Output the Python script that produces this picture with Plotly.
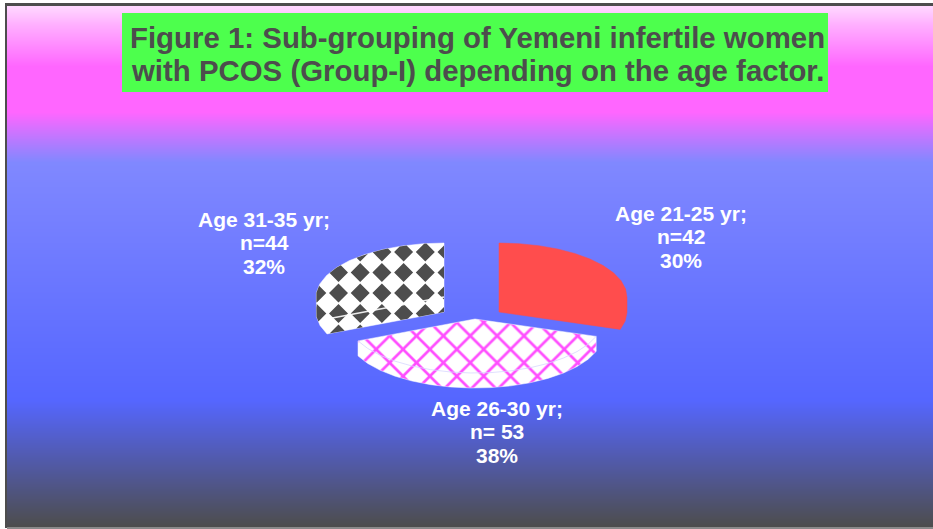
import math
import numpy as np
import plotly.graph_objects as go

# ---- data ----
groups = ["Age 21-25 yr", "Age 26-30 yr", "Age 31-35 yr"]
counts = [42, 53, 44]
percents = [30, 38, 32]
count_prefix = ["n=", "n= ", "n="]
title_lines = ["Figure 1: Sub-grouping of Yemeni infertile women",
               "with PCOS (Group-I) depending on the age factor."]

W, H = 933, 529
DARK = "#4D4D4D"

# background gradient (pixel row -> colour)
grad_rows = [6, 24, 66, 112, 162, 400, 526]
grad_cols = ["#FFD8FF", "#FFB0FF", "#FF66FF", "#FF66FF", "#8088FF", "#5566FF", "#4D4D4D"]

# pseudo-3D projection of the pie
RX, RY, DEPTH = 128, 54, 15
apexes = [(499, 297), (475, 319), (444, 297)]


def hull(pts):
    pts = sorted(set(pts))
    def half(seq):
        out = []
        for p in seq:
            while len(out) > 1 and (out[-1][0]-out[-2][0])*(p[1]-out[-2][1]) - (out[-1][1]-out[-2][1])*(p[0]-out[-2][0]) <= 0:
                out.pop()
            out.append(p)
        return out[:-1]
    return half(pts) + half(pts[::-1])


def sector(apex, a0, a1):
    n = max(2, int((a1 - a0) / 9))
    arc = [(apex[0] + RX*math.sin(math.radians(a0 + (a1-a0)*i/n)),
            apex[1] - RY*math.cos(math.radians(a0 + (a1-a0)*i/n))) for i in range(n+1)]
    return [apex] + arc


def clip(poly, convex):
    # Sutherland-Hodgman; convex is given in hull order
    out = poly
    for i in range(len(convex)):
        a, b = convex[i], convex[(i+1) % len(convex)]
        side = lambda p: (b[0]-a[0])*(p[1]-a[1]) - (b[1]-a[1])*(p[0]-a[0])
        inp, out = out, []
        for j in range(len(inp)):
            p, q = inp[j], inp[(j+1) % len(inp)]
            sp, sq = side(p), side(q)
            if sp >= 0:
                out.append(p)
            if sp * sq < 0:
                t = sp / (sp - sq)
                out.append((p[0]+t*(q[0]-p[0]), p[1]+t*(q[1]-p[1])))
        if not out:
            return []
    return out


def xy(pts, close=True):
    pts = list(pts) + ([pts[0]] if close else [])
    return [p[0] for p in pts], [p[1] for p in pts]


fig = go.Figure()

# background: one column between x edges, one row per pixel
rows = np.arange(grad_rows[0], H - 1)
span = grad_rows[-1] - grad_rows[0]
colorscale = [[(r - grad_rows[0]) / span, c] for r, c in zip(grad_rows, grad_cols)]
fig.add_trace(go.Heatmap(x=[7, W], y=rows, z=[[min(r, grad_rows[-1])] for r in rows],
                         zmin=grad_rows[0], zmax=grad_rows[-1], colorscale=colorscale,
                         showscale=False, hoverinfo="skip"))

# slices
total = sum(counts)
start = 0.0
for i, v in enumerate(counts):
    end = start + 360.0 * v / total
    top = sector(apexes[i], start, end)
    bottom = [(x, y + DEPTH) for x, y in top]
    outline = hull(top + bottom)
    x, y = xy(outline)
    if i == 0:
        fig.add_trace(go.Scatter(x=x, y=y, mode="lines", fill="toself", fillcolor="#FF4D4D",
                                 line=dict(color="#FF4D4D", width=0.5), name=groups[i], hoverinfo="skip"))
    elif i == 1:
        fig.add_trace(go.Scatter(x=x, y=y, mode="lines", fill="toself", name=groups[i], hoverinfo="skip",
                                 fillcolor="white", line=dict(color="white", width=0.5),
                                 fillpattern=dict(shape="x", fgcolor="#FF4DFF", bgcolor="white",
                                                  size=19, solidity=0.26, fillmode="replace")))
        ex, ey = xy(top[1:], close=False)
        fig.add_trace(go.Scatter(x=ex, y=ey, mode="lines", hoverinfo="skip", showlegend=False,
                                 line=dict(color="rgba(215,215,255,0.8)", width=1)))
    else:
        fig.add_trace(go.Scatter(x=x, y=y, mode="lines", fill="toself", fillcolor="white",
                                 line=dict(color="white", width=0.5), name=groups[i], hoverinfo="skip"))
        # diamond texture, clipped to the slice
        dx, dy = [], []
        half_d = 9.5
        for gx in np.arange(447, 300, -21.7):
            for gy in np.arange(252, 350, 20.5):
                d = [(gx, gy-half_d), (gx+half_d, gy), (gx, gy+half_d), (gx-half_d, gy)]
                c = clip(d, outline)
                if len(c) > 2:
                    px, py = xy(c)
                    dx += px + [None]
                    dy += py + [None]
        fig.add_trace(go.Scatter(x=dx, y=dy, mode="lines", fill="toself", fillcolor=DARK,
                                 line=dict(width=0), hoverinfo="skip", showlegend=False))
        ex, ey = xy(top[:2], close=False)
        fig.add_trace(go.Scatter(x=ex, y=ey, mode="lines", hoverinfo="skip", showlegend=False,
                                 line=dict(color="rgba(255,255,255,0.9)", width=1.5)))
    start = end

# title box
fig.add_shape(type="rect", x0=122, x1=828, y0=13, y1=92, fillcolor="#4DFF4D", line_width=0, layer="above")
for text, ty in zip(title_lines, [37, 70]):
    fig.add_annotation(x=477, y=ty, text=f"<b>{text}</b>", showarrow=False,
                       font=dict(family="Liberation Sans", size=29.4, color=DARK))

# data labels: one annotation per line, pitch as in the picture
label_pos = [(681, 213), (497, 408), (264, 219)]
LINE = 23.7
for g, c, p, pre, (lx, ly) in zip(groups, counts, percents, count_prefix, label_pos):
    for k, line in enumerate([f"{g};", f"{pre}{c}", f"{p}%"]):
        fig.add_annotation(x=lx, y=ly + k*LINE, text=f"<b>{line}</b>", showarrow=False,
                           font=dict(family="Liberation Sans", size=21, color="white"))

# frame
fig.add_shape(type="rect", x0=5, x1=7, y0=3, y1=H-1, fillcolor=DARK, line_width=0, layer="above")
fig.add_shape(type="rect", x0=5, x1=W, y0=3, y1=6, fillcolor=DARK, line_width=0, layer="above")
fig.add_shape(type="rect", x0=7, x1=W, y0=H-2, y1=H, fillcolor="#8A8A8A", line_width=0, layer="above")

fig.update_layout(width=W, height=H, margin=dict(l=0, r=0, t=0, b=0), showlegend=False,
                  paper_bgcolor="white", plot_bgcolor="white",
                  xaxis=dict(range=[0, W], visible=False, fixedrange=True),
                  yaxis=dict(range=[H, 0], visible=False, fixedrange=True))
fig.write_html("out.html", config=dict(displayModeBar=False),
               post_script="document.body.style.margin='0';document.body.style.overflow='hidden';")
